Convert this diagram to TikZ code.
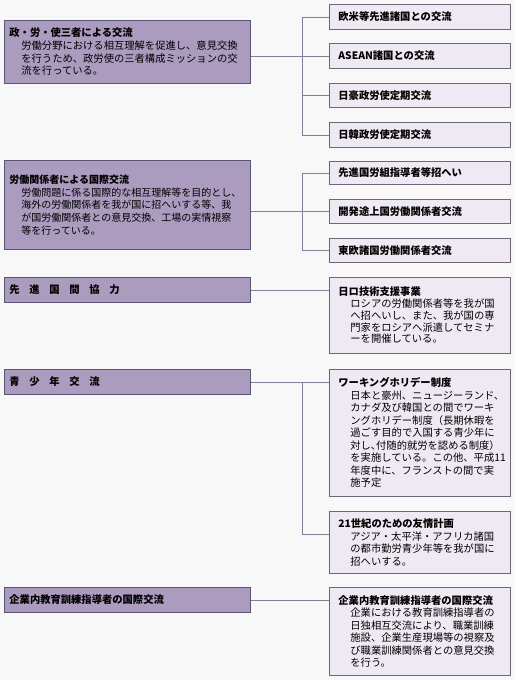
\documentclass[tikz,border=0pt]{standalone}
\usepackage{fontspec}
\setmainfont{Noto Sans CJK JP}
\definecolor{bgc}{RGB}{248,248,248}
\definecolor{lbf}{RGB}{170,155,191}
\definecolor{lbd}{RGB}{92,86,118}
\definecolor{rbf}{RGB}{239,233,243}
\definecolor{rbd}{RGB}{112,102,122}
\definecolor{cnc}{RGB}{132,126,152}
\newcommand\myind{\hspace*{12pt}}
\newcommand\mygap{\hspace{9.7pt}}
\begin{document}
\begin{tikzpicture}[x=1pt,y=-1pt,
  lbox/.style={draw=lbd, fill=lbf, line width=0.8pt, anchor=north west,
    inner xsep=5pt, inner ysep=0pt, align=left, text width=236pt, minimum width=246pt,
    font=\fontsize{10.3}{12.7}\selectfont},
  rbox/.style={draw=rbd, fill=rbf, line width=0.8pt, anchor=north west,
    inner xsep=9pt, inner ysep=0pt, align=left, text width=163pt, minimum width=181pt,
    font=\fontsize{10.3}{12.5}\selectfont},
  conn/.style={draw=cnc, line width=0.7pt}
]
\fill[bgc] (0,0) rectangle (515,680);
\useasboundingbox (0,0) rectangle (515,680);

% left boxes
\node[lbox, minimum height=63pt] (L1) at (4,20) {\textbf{政・労・使三者による交流}\\
\myind 労働分野における相互理解を促進し、意見交換\\
\myind を行うため、政労使の三者構成ミッションの交\\
\myind 流を行っている。};
\node[lbox, minimum height=89pt, font=\fontsize{10}{12.7}\selectfont] (L2) at (4,160) {\textbf{労働関係者による国際交流}\\
\myind 労働問題に係る国際的な相互理解等を目的とし、\\
\myind 海外の労働関係者を我が国に招へいする等、我\\
\myind が国労働関係者との意見交換、工場の実情視察\\
\myind 等を行っている。};
\node[lbox, minimum height=25pt] (L3) at (4,277) {\textbf{先\mygap 進\mygap 国\mygap 間\mygap 協\mygap 力}};
\node[lbox, minimum height=25pt] (L4) at (4,369) {\textbf{青\mygap 少\mygap 年\mygap 交\mygap 流}};
\node[lbox, minimum height=25pt] (L5) at (4,587) {\textbf{企業内教育訓練指導者の国際交流}};

% right boxes
\node[rbox, minimum height=25pt] (R1a) at (329,4) {\textbf{欧米等先進諸国との交流}};
\node[rbox, minimum height=25pt] (R1b) at (329,43) {\textbf{ASEAN諸国との交流}};
\node[rbox, minimum height=24pt] (R1c) at (329,83) {\textbf{日豪政労使定期交流}};
\node[rbox, minimum height=25pt] (R1d) at (329,122) {\textbf{日韓政労使定期交流}};

\node[rbox, minimum height=23pt] (R2a) at (329,161) {\textbf{先進国労組指導者等招へい}};
\node[rbox, minimum height=24pt] (R2b) at (329,199) {\textbf{開発途上国労働関係者交流}};
\node[rbox, minimum height=24pt] (R2c) at (329,238) {\textbf{東欧諸国労働関係者交流}};

\node[rbox, minimum height=76pt, font=\fontsize{10.3}{11.8}\selectfont] (R3) at (329,277) {\textbf{日ロ技術支援事業}\\
\myind ロシアの労働関係者等を我が国\\
\myind へ招へいし、また、我が国の専\\
\myind 門家をロシアへ派遣してセミナ\\
\myind ーを開催している。};

\node[rbox, minimum height=127pt] (R4a) at (329,369) {\textbf{ワーキングホリデー制度}\\
\myind 日本と豪州、ニュージーランド、\\
\myind カナダ及び韓国との間でワーキ\\
\myind ングホリデー制度（長期休暇を\\
\myind 過ごす目的で入国する青少年に\\
\myind 対し､付随的就労を認める制度）\\
\myind を実施している。この他、平成11\\
\myind 年度中に、フランストの間で実\\
\myind 施予定};
\node[rbox, minimum height=62pt] (R4b) at (329,511) {\textbf{21世紀のための友情計画}\\
\myind アジア・太平洋・アフリカ諸国\\
\myind の都市勤労青少年等を我が国に\\
\myind 招へいする。};

\node[rbox, minimum height=88pt] (R5) at (329,587) {\textbf{企業内教育訓練指導者の国際交流}\\
\myind 企業における教育訓練指導者の\\
\myind 日独相互交流により、職業訓練\\
\myind 施設、企業生産現場等の視察及\\
\myind び職業訓練関係者との意見交換\\
\myind を行う。};

% connectors
\draw[conn] (L1.east |- R1b.west) -- (R1b.west);
\draw[conn] (R1a.west) -- ++(-27,0) |- (R1d.west);
\draw[conn] (R1c.west) -- ++(-27,0);

\draw[conn] (L2.east |- R2b.west) -- (R2b.west);
\draw[conn] (R2a.west) -- ++(-27,0) |- (R2c.west);

\draw[conn] (L3.east) -- (L3.east -| R3.west);

\coordinate (k4) at (302,534);
\draw[conn] (L4.east) -- (L4.east -| R4a.west);
\draw[conn] (L4.east -| k4) -- (k4) -- (k4 -| R4b.west);

\draw[conn] (L5.east) -- (L5.east -| R5.west);
\end{tikzpicture}
\end{document}
